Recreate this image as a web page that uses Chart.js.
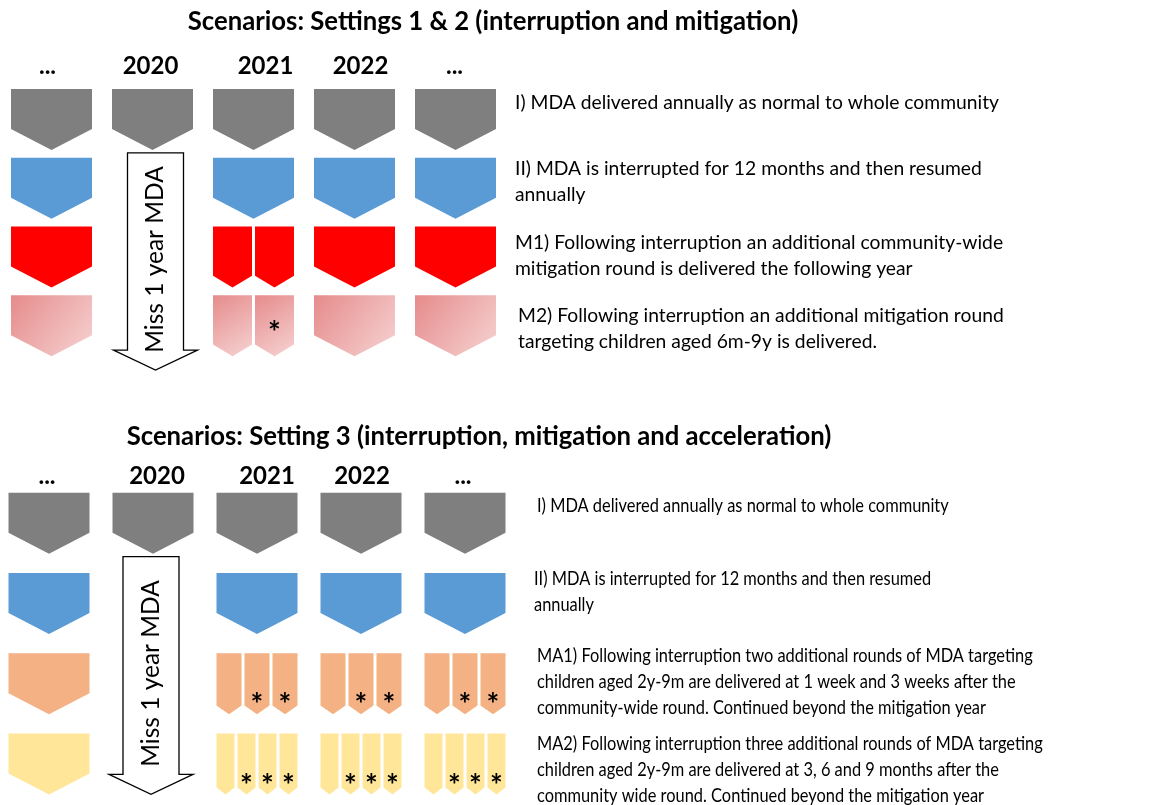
<!DOCTYPE html>
<html>
<head>
<meta charset="utf-8">
<script src="https://cdn.jsdelivr.net/npm/chart.js@4.4.1/dist/chart.umd.min.js"></script>
<style>
  html, body { margin: 0; padding: 0; background: #fff; }
  #wrap { position: relative; width: 1157px; height: 805px; overflow: hidden; }
  .panel { position: absolute; }
  #top { left: 0; top: 0; }
  #bottom { left: -3px; top: 400px; }
</style>
</head>
<body>
<div id="wrap">
  <div class="panel" id="top"><canvas id="topChart" width="1157" height="400"></canvas></div>
  <div class="panel" id="bottom"><canvas id="bottomChart" width="1160" height="405"></canvas></div>
</div>
<script>
// ---- data ----
const years = ['...', '2020', '2021', '2022', '...'];
const missedLabel = 'Miss 1 year MDA';

const topTitle = 'Scenarios: Settings 1 & 2 (interruption and mitigation)';
const topScenarios = ['I', 'II', 'M1', 'M2'];
// number of MDA rounds delivered in each year (0 = missed)
const topRounds = [
  [1, 1, 1, 1, 1],
  [1, 0, 1, 1, 1],
  [1, 0, 2, 1, 1],
  [1, 0, 2, 1, 1]
];
// how many of those rounds target children only (marked *)
const topTargeted = [
  [0, 0, 0, 0, 0],
  [0, 0, 0, 0, 0],
  [0, 0, 0, 0, 0],
  [0, 0, 1, 0, 0]
];
const topNotes = [
  ['I) MDA delivered annually as normal to whole community'],
  ['II) MDA is interrupted for 12 months and then resumed', 'annually'],
  ['M1) Following interruption an additional community-wide', 'mitigation round is delivered the following year'],
  ['M2) Following interruption an additional mitigation round', 'targeting children aged 6m-9y is delivered.']
];

const bottomTitle = 'Scenarios: Setting 3 (interruption, mitigation and acceleration)';
const bottomScenarios = ['I', 'II', 'MA1', 'MA2'];
const bottomRounds = [
  [1, 1, 1, 1, 1],
  [1, 0, 1, 1, 1],
  [1, 0, 3, 3, 3],
  [1, 0, 4, 4, 4]
];
const bottomTargeted = [
  [0, 0, 0, 0, 0],
  [0, 0, 0, 0, 0],
  [0, 0, 2, 2, 2],
  [0, 0, 3, 3, 3]
];
const bottomNotes = [
  ['I) MDA delivered annually as normal to whole community'],
  ['II) MDA is interrupted for 12 months and then resumed', 'annually'],
  ['MA1) Following interruption two additional rounds of MDA targeting',
   'children aged 2y-9m are delivered at 1 week and 3 weeks after the',
   'community-wide round. Continued beyond the mitigation year'],
  ['MA2) Following interruption three additional rounds of MDA targeting',
   'children aged 2y-9m are delivered at 3, 6 and 9 months after the',
   'community wide round. Continued beyond the mitigation year']
];

// ---- styles ----
const FONT = 'Lato, "Open Sans", sans-serif';
const topColors = ['#7f7f7f', '#5b9bd5', '#ff0000', ['#e68b8b', '#f6d3d3']];
const bottomColors = ['#7f7f7f', '#5b9bd5', '#f4b183', '#ffe699'];

function pentagon(ctx, cx, top, w, h, tip) {
  ctx.beginPath();
  ctx.moveTo(cx - w / 2, top);
  ctx.lineTo(cx + w / 2, top);
  ctx.lineTo(cx + w / 2, top + h - tip);
  ctx.lineTo(cx, top + h);
  ctx.lineTo(cx - w / 2, top + h - tip);
  ctx.closePath();
}

const diagramPlugin = {
  id: 'diagram',
  afterDatasetsDraw(chart, args, o) {
    const ctx = chart.ctx;
    const area = chart.chartArea;
    const datasets = chart.data.datasets;
    const cellPts = datasets.map((ds, r) => chart.getDatasetMeta(r).data);
    ctx.save();

    // panel title
    ctx.fillStyle = '#000';
    ctx.textAlign = 'center';
    ctx.textBaseline = 'alphabetic';
    ctx.font = `bold ${o.titleSize}px ${FONT}`;
    ctx.fillText(o.title, o.titleX, o.titleY);

    // year labels above the columns
    ctx.font = `bold 24px ${FONT}`;
    years.forEach((label, c) => {
      ctx.fillText(label, cellPts[0][c].x + o.yearNudge[c], o.yearY);
    });

    // MDA rounds
    datasets.forEach((ds, r) => {
      ds.data.forEach((d, c) => {
        if (!d.rounds) return;
        const cx = cellPts[r][c].x;
        const top = cellPts[r][c].y - o.cellH / 2;
        const n = d.rounds;
        const sw = (o.cellW - (n - 1) * o.gap) / n;
        const tip = 3 + 0.444 * sw / 2;
        for (let k = 0; k < n; k++) {
          const sx = cx - o.cellW / 2 + sw / 2 + k * (sw + o.gap);
          pentagon(ctx, sx, top, sw, o.cellH, tip);
          const col = ds.backgroundColor;
          if (Array.isArray(col)) {
            const g = ctx.createLinearGradient(sx - sw / 2, top, sx + sw / 2, top + o.cellH);
            g.addColorStop(0, col[0]);
            g.addColorStop(1, col[1]);
            ctx.fillStyle = g;
          } else {
            ctx.fillStyle = col;
          }
          ctx.fill();
          if (k >= n - d.targeted) {
            ctx.fillStyle = '#000';
            ctx.font = `bold 30px ${FONT}`;
            ctx.textAlign = 'center';
            ctx.textBaseline = 'alphabetic';
            const m = ctx.measureText('*');
            const cy = top + (o.cellH - tip) * o.starAt;
            ctx.fillText('*', sx, cy + (m.actualBoundingBoxAscent - m.actualBoundingBoxDescent) / 2);
          }
        }
      });
    });

    // missed year arrow
    const missCol = years.findIndex((y, c) => datasets.some(ds => ds.data[c].rounds === 0));
    if (missCol >= 0) {
      const rows = datasets.map((ds, r) => r).filter(r => datasets[r].data[missCol].rounds === 0);
      const r0 = rows[0], r1 = rows[rows.length - 1];
      const xc = cellPts[r0][missCol].x + o.arrowDx;
      const y0 = cellPts[r0 - 1][missCol].y + o.cellH / 2 + 3;
      const yEnd = cellPts[r1][missCol].y + o.cellH / 2 + o.arrowOver;
      const yWing = yEnd - 20;
      ctx.beginPath();
      ctx.moveTo(xc - 28, y0);
      ctx.lineTo(xc + 28, y0);
      ctx.lineTo(xc + 28, yWing);
      ctx.lineTo(xc + 42, yWing);
      ctx.lineTo(xc, yEnd);
      ctx.lineTo(xc - 42, yWing);
      ctx.lineTo(xc - 28, yWing);
      ctx.closePath();
      ctx.fillStyle = '#fff';
      ctx.fill();
      ctx.strokeStyle = '#000';
      ctx.lineWidth = 1.3;
      ctx.stroke();
      ctx.save();
      ctx.translate(xc, (y0 + yWing) / 2 + 8);
      ctx.rotate(-Math.PI / 2);
      ctx.fillStyle = '#000';
      ctx.font = `24.5px ${FONT}`;
      ctx.textAlign = 'center';
      ctx.textBaseline = 'middle';
      ctx.fillText(missedLabel, 0, 0);
      ctx.restore();
    }

    // scenario descriptions
    ctx.fillStyle = '#000';
    ctx.font = `${o.noteSize}px ${FONT}`;
    ctx.textAlign = 'left';
    ctx.textBaseline = 'middle';
    o.notes.forEach((lines, r) => {
      const top = cellPts[r][0].y - o.cellH / 2;
      lines.forEach((line, i) => {
        ctx.save();
        ctx.translate(area.right + o.noteGap + o.noteDx[r], top + 13 + o.noteDy[r] + i * 26);
        ctx.scale(o.squeeze, 1);
        ctx.fillText(line, 0, 0);
        ctx.restore();
      });
    });
    ctx.restore();
  }
};

function buildPanel(id, scenarios, rounds, targeted, colors, opts, padding) {
  const datasets = scenarios.map((name, r) => ({
    label: name,
    data: years.map((y, c) => ({ x: y, y: name, rounds: rounds[r][c], targeted: targeted[r][c] })),
    backgroundColor: colors[r],
    pointRadius: 0,
    pointHoverRadius: 0
  }));
  return new Chart(document.getElementById(id), {
    type: 'scatter',
    data: { datasets },
    options: {
      responsive: false,
      animation: false,
      events: [],
      layout: { padding },
      scales: {
        x: { type: 'category', labels: years, offset: true, display: false },
        y: { type: 'category', labels: scenarios, offset: true, display: false }
      },
      plugins: {
        legend: { display: false },
        tooltip: { enabled: false },
        diagram: opts
      }
    },
    plugins: [diagramPlugin]
  });
}

buildPanel('topChart', topScenarios, topRounds, topTargeted, topColors, {
  title: topTitle, titleSize: 25.7, titleX: 493, titleY: 30,
  yearY: 74, yearNudge: [-4, -2, 12, 6, -1],
  cellW: 81, cellH: 61, gap: 3, starAt: 0.62,
  arrowDx: 3, arrowOver: 14,
  notes: topNotes, noteSize: 20, noteGap: 9, squeeze: 0.964,
  noteDx: [0, 0, 0, 3], noteDy: [1, -2, 3, 7]
}, { left: 1, right: 651, top: 85, bottom: 40 });

buildPanel('bottomChart', bottomScenarios, bottomRounds, bottomTargeted, bottomColors, {
  title: bottomTitle, titleSize: 25.7, titleX: 482, titleY: 45,
  yearY: 84, yearNudge: [-2, 4, 10, 1, -2],
  cellW: 81, cellH: 61, gap: 3, starAt: 0.84,
  arrowDx: -2, arrowOver: 0,
  notes: bottomNotes, noteSize: 20, noteGap: 20, squeeze: 0.82,
  noteDx: [0, -3, 0, 0], noteDy: [0, -7, -11, -3]
}, { left: 0, right: 640, top: 83, bottom: 1 });
</script>
</body>
</html>
